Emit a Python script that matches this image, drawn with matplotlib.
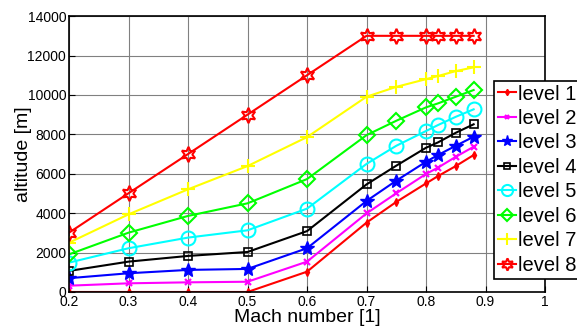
import matplotlib
matplotlib.use("Agg")
import matplotlib.pyplot as plt

plt.rcParams['font.family'] = ['Liberation Sans', 'DejaVu Sans']

mach = [0.2, 0.3, 0.4, 0.5, 0.6, 0.7, 0.75, 0.8, 0.82, 0.85, 0.88]

level1 = [0, 0, 0, 0, 1030, 3520, 4570, 5510, 5880, 6390, 6950]
level2 = [320, 440, 490, 520, 1540, 3990, 5010, 5990, 6310, 6860, 7370]
level3 = [700, 950, 1120, 1170, 2220, 4620, 5650, 6610, 6950, 7420, 7880]
level4 = [1070, 1540, 1830, 2030, 3090, 5460, 6410, 7320, 7590, 8080, 8510]
level5 = [1490, 2220, 2760, 3130, 4230, 6500, 7420, 8170, 8470, 8890, 9270]
level6 = [1910, 3010, 3860, 4500, 5730, 7960, 8690, 9370, 9570, 9910, 10250]
level7 = [2500, 3940, 5210, 6390, 7860, 9910, 10410, 10800, 10960, 11210, 11400]
level8 = [3010, 5010, 7000, 9000, 11000, 13000, 13000, 13000, 13000, 13000, 13000]

series = [level1, level2, level3, level4, level5, level6, level7, level8]
labels = ['level 1', 'level 2', 'level 3', 'level 4',
          'level 5', 'level 6', 'level 7', 'level 8']

styles = [
    dict(color='#ff0000', marker='d', ms=4, mfc='#ff0000'),
    dict(color='#ff00ff', marker='x', ms=4, mew=1.6),
    dict(color='#0000ff', marker='*', ms=10, mfc='#0000ff'),
    dict(color='#000000', marker='s', ms=6, mfc='none', mew=1.2),
    dict(color='#00ffff', marker='o', ms=10, mfc='none', mew=1.5),
    dict(color='#00ff00', marker='D', ms=8, mfc='none', mew=1.5),
    dict(color='#ffff00', marker='+', ms=10, mew=1.5),
    dict(color='#ff0000', marker=(6, 1, 0), ms=11, mfc='none', mew=1.5),
]

fig = plt.figure(figsize=(5.77, 3.29), dpi=100)
ax = fig.add_axes([0.1196, 0.1125, 0.825, 0.8385])

for y, lab, st in zip(series, labels, styles):
    ax.plot(mach, y, lw=1.5, label=lab, **st)

ax.set_xlim(0.2, 1.0)
ax.set_ylim(0, 14000)
ax.set_xticks([0.2, 0.3, 0.4, 0.5, 0.6, 0.7, 0.8, 0.9, 1.0])
ax.set_xticklabels(['0.2', '0.3', '0.4', '0.5', '0.6', '0.7', '0.8', '0.9', '1'])
ax.set_yticks(range(0, 14001, 2000))
ax.tick_params(direction='in', labelsize=10, length=4, pad=2)
ax.grid(True, color='#808080', lw=0.8)
ax.set_xlabel('Mach number [1]', fontsize=14, labelpad=0.5)
ax.set_ylabel('altitude [m]', fontsize=14, labelpad=-3)
for sp in ax.spines.values():
    sp.set_linewidth(1.2)

leg = ax.legend(loc='upper left', bbox_to_anchor=(494 / 577, 1 - 80.5 / 329),
                bbox_transform=fig.transFigure, fontsize=14.5,
                fancybox=False, framealpha=1, edgecolor='black',
                handlelength=0.9, handletextpad=0.1, labelspacing=0.27,
                borderpad=0.2, borderaxespad=0, markerscale=0.8)
leg.get_frame().set_linewidth(1.2)
leg.set_zorder(10)

fig.savefig('out.png', dpi=100)
